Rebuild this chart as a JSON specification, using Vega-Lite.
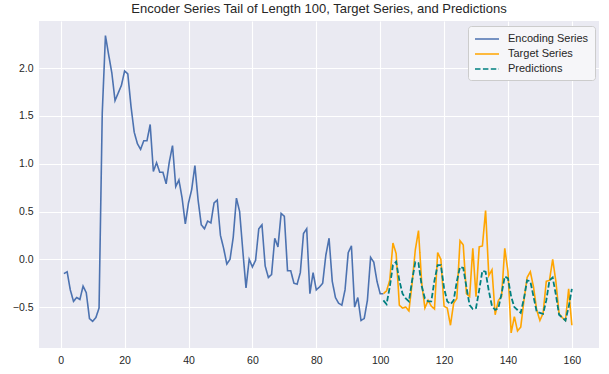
{
  "$schema": "https://vega.github.io/schema/vega-lite/v6.json",
  "width": 560,
  "height": 327,
  "autosize": {"type": "none"},
  "padding": {"left": 39, "top": 21, "right": 10, "bottom": 26},
  "background": "white",
  "title": {"text": "Encoder Series Tail of Length 100, Target Series, and Predictions", "fontSize": 13, "fontWeight": "normal", "font": "Liberation Sans", "color": "#262626", "offset": 5, "anchor": "middle"},
  "config": {
    "view": {"fill": "#EAEAF2", "stroke": null},
    "axis": {"domain": false, "ticks": false, "gridColor": "white", "gridWidth": 1.1, "labelFont": "Liberation Sans", "labelFontSize": 10.5, "labelColor": "#262626", "title": null}
  },
  "layer": [
    {
      "data": {"values": [
        {"t":1,"v":-0.15},{"t":2,"v":-0.13},{"t":3,"v":-0.32},{"t":4,"v":-0.44},{"t":5,"v":-0.40},{"t":6,"v":-0.42},{"t":7,"v":-0.28},{"t":8,"v":-0.35},{"t":9,"v":-0.62},{"t":10,"v":-0.65},
        {"t":11,"v":-0.61},{"t":12,"v":-0.51},{"t":13,"v":1.53},{"t":14,"v":2.34},{"t":15,"v":2.14},{"t":16,"v":1.95},{"t":17,"v":1.66},{"t":18,"v":1.74},{"t":19,"v":1.82},{"t":20,"v":1.97},
        {"t":21,"v":1.94},{"t":22,"v":1.60},{"t":23,"v":1.33},{"t":24,"v":1.21},{"t":25,"v":1.15},{"t":26,"v":1.24},{"t":27,"v":1.24},{"t":28,"v":1.41},{"t":29,"v":0.92},{"t":30,"v":1.01},
        {"t":31,"v":0.91},{"t":32,"v":0.91},{"t":33,"v":0.79},{"t":34,"v":1.02},{"t":35,"v":1.19},{"t":36,"v":0.76},{"t":37,"v":0.83},{"t":38,"v":0.64},{"t":39,"v":0.37},{"t":40,"v":0.59},
        {"t":41,"v":0.73},{"t":42,"v":0.98},{"t":43,"v":0.62},{"t":44,"v":0.36},{"t":45,"v":0.32},{"t":46,"v":0.40},{"t":47,"v":0.38},{"t":48,"v":0.59},{"t":49,"v":0.62},{"t":50,"v":0.25},
        {"t":51,"v":0.115},{"t":52,"v":-0.05},{"t":53,"v":0.0},{"t":54,"v":0.23},{"t":55,"v":0.64},{"t":56,"v":0.50},{"t":57,"v":0.09},{"t":58,"v":-0.30},{"t":59,"v":0.0},{"t":60,"v":-0.08},
        {"t":61,"v":-0.01},{"t":62,"v":0.32},{"t":63,"v":0.36},{"t":64,"v":-0.07},{"t":65,"v":-0.19},{"t":66,"v":-0.16},{"t":67,"v":0.22},{"t":68,"v":0.13},{"t":69,"v":0.48},{"t":70,"v":0.45},
        {"t":71,"v":-0.12},{"t":72,"v":-0.12},{"t":73,"v":-0.25},{"t":74,"v":-0.26},{"t":75,"v":-0.14},{"t":76,"v":0.27},{"t":77,"v":0.32},{"t":78,"v":-0.36},{"t":79,"v":-0.14},{"t":80,"v":-0.32},
        {"t":81,"v":-0.29},{"t":82,"v":-0.25},{"t":83,"v":0.045},{"t":84,"v":0.22},{"t":85,"v":-0.23},{"t":86,"v":-0.40},{"t":87,"v":-0.46},{"t":88,"v":-0.48},{"t":89,"v":-0.32},{"t":90,"v":0.07},
        {"t":91,"v":0.14},{"t":92,"v":-0.50},{"t":93,"v":-0.40},{"t":94,"v":-0.64},{"t":95,"v":-0.62},{"t":96,"v":-0.43},{"t":97,"v":0.02},{"t":98,"v":-0.03},{"t":99,"v":-0.23},{"t":100,"v":-0.36},
        {"t":101,"v":-0.36}
      ]},
      "transform": [{"calculate": "'Encoding Series'", "as": "series"}],
      "mark": {"type": "line", "strokeWidth": 1.6},
      "encoding": {
        "x": {"field": "t", "type": "quantitative", "scale": {"domain": [-6.8, 168.5], "nice": false, "zero": false}, "axis": {"values": [0,20,40,60,80,100,120,140,160], "format": "d", "labelPadding": 7}},
        "y": {"field": "v", "type": "quantitative", "scale": {"domain": [-0.928, 2.493], "nice": false, "zero": false}, "axis": {"values": [-0.5,0,0.5,1,1.5,2], "format": ".1f", "labelPadding": 6}},
        "color": {"field": "series", "type": "nominal", "scale": {"domain": ["Encoding Series","Target Series","Predictions"], "range": ["#4C72B0","#FFA500","#008080"]},
          "legend": {"title": null, "orient": "none", "legendX": 429, "legendY": 5, "symbolType": "M-1,0L3,0", "symbolSize": 144, "symbolStrokeWidth": 1.6, "labelOffset": 20, "labelFont": "Liberation Sans", "labelFontSize": 11, "labelColor": "#262626", "fillColor": "#F6F6F9", "strokeColor": "#CCCCCC", "cornerRadius": 3, "padding": 6, "rowPadding": 3}},
        "strokeDash": {"field": "series", "type": "nominal", "scale": {"domain": ["Encoding Series","Target Series","Predictions"], "range": [[1,0],[1,0],[5.5,2.4]]}, "legend": null}
      }
    },
    {
      "data": {"values": [
        {"t":101,"v":-0.36},{"t":102,"v":-0.33},{"t":103,"v":-0.22},{"t":104,"v":0.17},{"t":105,"v":0.06},{"t":106,"v":-0.48},{"t":107,"v":-0.51},{"t":108,"v":-0.50},{"t":109,"v":-0.54},{"t":110,"v":-0.25},
        {"t":111,"v":0.10},{"t":112,"v":0.30},{"t":113,"v":-0.25},{"t":114,"v":-0.51},{"t":115,"v":-0.43},{"t":116,"v":-0.49},{"t":117,"v":-0.52},{"t":118,"v":0.07},{"t":119,"v":0.0},{"t":120,"v":-0.49},
        {"t":121,"v":-0.51},{"t":122,"v":-0.69},{"t":123,"v":-0.46},{"t":124,"v":-0.41},{"t":125,"v":0.195},{"t":126,"v":0.15},{"t":127,"v":-0.36},{"t":128,"v":-0.39},{"t":129,"v":0.115},{"t":130,"v":-0.39},
        {"t":131,"v":0.13},{"t":132,"v":0.14},{"t":133,"v":0.51},{"t":134,"v":-0.17},{"t":135,"v":-0.11},{"t":136,"v":-0.58},{"t":137,"v":-0.43},{"t":138,"v":-0.39},{"t":139,"v":0.115},{"t":140,"v":-0.13},
        {"t":141,"v":-0.77},{"t":142,"v":-0.60},{"t":143,"v":-0.75},{"t":144,"v":-0.71},{"t":145,"v":-0.43},{"t":146,"v":-0.19},{"t":147,"v":-0.13},{"t":148,"v":-0.29},{"t":149,"v":-0.53},{"t":150,"v":-0.64},
        {"t":151,"v":-0.565},{"t":152,"v":-0.23},{"t":153,"v":-0.22},{"t":154,"v":0.0},{"t":155,"v":-0.23},{"t":156,"v":-0.57},{"t":157,"v":-0.61},{"t":158,"v":-0.64},{"t":159,"v":-0.31},{"t":160,"v":-0.69}
      ]},
      "transform": [{"calculate": "'Target Series'", "as": "series"}],
      "mark": {"type": "line", "strokeWidth": 1.6},
      "encoding": {
        "x": {"field": "t", "type": "quantitative"},
        "y": {"field": "v", "type": "quantitative"},
        "color": {"field": "series", "type": "nominal"},
        "strokeDash": {"field": "series", "type": "nominal"}
      }
    },
    {
      "data": {"values": [
        {"t":101,"v":-0.43},{"t":102,"v":-0.47},{"t":103,"v":-0.29},{"t":104,"v":-0.06},{"t":105,"v":-0.025},{"t":106,"v":-0.22},{"t":107,"v":-0.36},{"t":108,"v":-0.41},{"t":109,"v":-0.44},{"t":110,"v":-0.22},
        {"t":111,"v":-0.03},{"t":112,"v":-0.04},{"t":113,"v":-0.28},{"t":114,"v":-0.41},{"t":115,"v":-0.44},{"t":116,"v":-0.44},{"t":117,"v":-0.22},{"t":118,"v":-0.06},{"t":119,"v":-0.06},{"t":120,"v":-0.30},
        {"t":121,"v":-0.44},{"t":122,"v":-0.47},{"t":123,"v":-0.43},{"t":124,"v":-0.23},{"t":125,"v":-0.08},{"t":126,"v":-0.09},{"t":127,"v":-0.29},{"t":128,"v":-0.48},{"t":129,"v":-0.52},{"t":130,"v":-0.51},
        {"t":131,"v":-0.32},{"t":132,"v":-0.12},{"t":133,"v":-0.13},{"t":134,"v":-0.33},{"t":135,"v":-0.49},{"t":136,"v":-0.53},{"t":137,"v":-0.51},{"t":138,"v":-0.36},{"t":139,"v":-0.18},{"t":140,"v":-0.20},
        {"t":141,"v":-0.39},{"t":142,"v":-0.50},{"t":143,"v":-0.53},{"t":144,"v":-0.56},{"t":145,"v":-0.41},{"t":146,"v":-0.22},{"t":147,"v":-0.23},{"t":148,"v":-0.39},{"t":149,"v":-0.55},{"t":150,"v":-0.56},
        {"t":151,"v":-0.57},{"t":152,"v":-0.43},{"t":153,"v":-0.22},{"t":154,"v":-0.19},{"t":155,"v":-0.37},{"t":156,"v":-0.58},{"t":157,"v":-0.61},{"t":158,"v":-0.64},{"t":159,"v":-0.50},{"t":160,"v":-0.31}
      ]},
      "transform": [{"calculate": "'Predictions'", "as": "series"}],
      "mark": {"type": "line", "strokeWidth": 1.8},
      "encoding": {
        "x": {"field": "t", "type": "quantitative"},
        "y": {"field": "v", "type": "quantitative"},
        "color": {"field": "series", "type": "nominal"},
        "strokeDash": {"field": "series", "type": "nominal"}
      }
    }
  ]
}
